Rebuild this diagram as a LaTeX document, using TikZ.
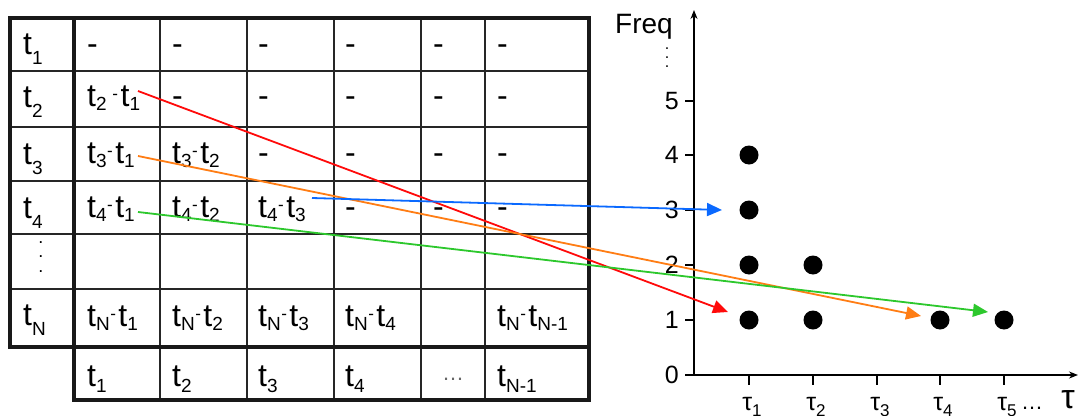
\documentclass[tikz,border=0pt]{standalone}
\usepackage{fontspec}
\setmainfont{Liberation Sans}
\usetikzlibrary{arrows.meta}
\definecolor{cred}{RGB}{255,10,10}
\definecolor{corange}{RGB}{255,125,20}
\definecolor{cgreen}{RGB}{45,200,45}
\definecolor{cblue}{RGB}{10,105,255}
% header subscript, bottom-row subscript, cell subscript, small raised minus
\newcommand{\hsb}[1]{\raisebox{-10pt}{\fontsize{19}{19}\selectfont #1}}
\newcommand{\bsb}[1]{\raisebox{-6pt}{\fontsize{19}{19}\selectfont #1}}
\newcommand{\csb}[1]{\raisebox{-4pt}{\fontsize{19}{19}\selectfont #1}}
\newcommand{\mns}{\hspace{0.5pt}\raisebox{7pt}{\fontsize{17}{17}\selectfont -}\hspace{2.5pt}}
\newcommand{\gsb}[1]{\raisebox{-6pt}{\fontsize{17}{17}\selectfont #1}}
\begin{document}
\begin{tikzpicture}[x=1pt,y=-1pt,
  thinline/.style={line width=1.2pt, draw=black!85},
  thickline/.style={line width=3.4pt, draw=black!90},
  tcell/.style={anchor=base west, inner sep=0pt, font=\fontsize{32}{32}\selectfont},
  axlabel/.style={anchor=east, inner sep=0pt, font=\fontsize{25}{25}\selectfont},
  taulabel/.style={anchor=base, inner sep=0pt, font=\fontsize{25}{25}\selectfont},
  dot/.style={circle, fill=black, inner sep=0pt, minimum size=19pt},
  conn/.style={line width=1.8pt, -{Triangle[length=15pt,width=13pt]}},
  axis/.style={line width=1.2pt, -{Stealth[length=9pt,width=7pt]}}
]
\fill[white] (0,0) rectangle (1078,415);
\useasboundingbox (0,0) rectangle (1078,415);

% ---- table grid ----
\foreach \y in {71,127,181,234,289} \draw[thinline] (10,\y) -- (589,\y);
\foreach \x in {160,247,334,421,485} \draw[thinline] (\x,18) -- (\x,400);
\draw[thickline] (10,18) rectangle (589,347);
\draw[thickline] (74,18) -- (74,400);
\draw[thickline] (74,347) rectangle (589,400);

% ---- row headers ----
\node[tcell] (h1) at (23,54) {t\hsb{1}};
\node[tcell] (h2) at (23,107) {t\hsb{2}};
\node[tcell] (h3) at (23,164) {t\hsb{3}};
\node[tcell] (h4) at (23,218) {t\hsb{4}};
\node[align=center, inner sep=0pt, font=\fontsize{18}{14.5}\selectfont] (hdots) at (41,257) {.\\.\\.};
\node[tcell] (hN) at (23,325) {t\hsb{N}};

% ---- row 1 ----
\node[tcell] (c11) at (87,54) {-};
\node[tcell] (c12) at (172,54) {-};
\node[tcell] (c13) at (258,54) {-};
\node[tcell] (c14) at (345,54) {-};
\node[tcell] (c15) at (433,54) {-};
\node[tcell] (c16) at (497,54) {-};
% ---- row 2 ----
\node[tcell] (c21) at (87,106) {t\csb{2}\,\mns t\csb{1}};
\node[tcell] (c22) at (172,106) {-};
\node[tcell] (c23) at (258,106) {-};
\node[tcell] (c24) at (345,106) {-};
\node[tcell] (c25) at (433,106) {-};
\node[tcell] (c26) at (497,106) {-};
% ---- row 3 ----
\node[tcell] (c31) at (87,163) {t\csb{3}\mns t\csb{1}};
\node[tcell] (c32) at (172,163) {t\csb{3}\mns t\csb{2}};
\node[tcell] (c33) at (258,163) {-};
\node[tcell] (c34) at (345,163) {-};
\node[tcell] (c35) at (433,163) {-};
\node[tcell] (c36) at (497,163) {-};
% ---- row 4 ----
\node[tcell] (c41) at (87,217) {t\csb{4}\mns t\csb{1}};
\node[tcell] (c42) at (172,217) {t\csb{4}\mns t\csb{2}};
\node[tcell] (c43) at (258,217) {t\csb{4}\mns t\csb{3}};
\node[tcell] (c44) at (345,217) {-};
\node[tcell] (c45) at (433,217) {-};
\node[tcell] (c46) at (497,217) {-};
% ---- row N ----
\node[tcell] (cN1) at (87,326) {t\csb{N}\mns t\csb{1}};
\node[tcell] (cN2) at (172,326) {t\csb{N}\mns t\csb{2}};
\node[tcell] (cN3) at (258,326) {t\csb{N}\mns t\csb{3}};
\node[tcell] (cN4) at (345,326) {t\csb{N}\mns t\csb{4}};
\node[tcell] (cN6) at (497,326) {t\csb{N}\mns t\csb{N-1}};
% ---- bottom row ----
\node[tcell] (b1) at (87,386) {t\bsb{1}};
\node[tcell] (b2) at (172,386) {t\bsb{2}};
\node[tcell] (b3) at (258,386) {t\bsb{3}};
\node[tcell] (b4) at (345,386) {t\bsb{4}};
\node[inner sep=0pt, font=\fontsize{22}{22}\selectfont, text=black!60] (b5) at (453,379) {\dots};
\node[tcell] (b6) at (497,386) {t\bsb{N-1}};

% ---- plot axes ----
\coordinate (O) at (694,375);
\coordinate (Ytop) at (694,10);
\coordinate (Xend) at (1078,375);
\draw[axis] (685,375) -- (Xend);
\draw[axis] (O) -- (Ytop);
\foreach \y in {101,155,210,265,320} \draw[line width=1.2pt] (685,\y) -- (694,\y);
\foreach \x in {749,813,877,940,1004} \draw[line width=1.2pt] (\x,375) -- (\x,385);

\node[anchor=base west, inner sep=0pt, font=\fontsize{28}{28}\selectfont] (freq) at (615,33) {Freq};
\node[align=center, inner sep=0pt, font=\fontsize{16}{9}\selectfont] (fdots) at (667,58) {.\\.\\.};
\node[axlabel] (y5) at (679,101) {5};
\node[axlabel] (y4) at (679,155) {4};
\node[axlabel] (y3) at (679,210) {3};
\node[axlabel] (y2) at (679,265) {2};
\node[axlabel] (y1) at (679,320) {1};
\node[axlabel] (y0) at (679,375) {0};

\node[taulabel] (x1) at (752,410) {τ\gsb{1}};
\node[taulabel] (x2) at (816,410) {τ\gsb{2}};
\node[taulabel] (x3) at (880,410) {τ\gsb{3}};
\node[taulabel] (x4) at (943,410) {τ\gsb{4}};
\node[taulabel] (x5) at (1007,410) {τ\gsb{5}};
\node[anchor=base, inner sep=0pt, font=\fontsize{22}{22}\selectfont] (xdots) at (1032,409) {\dots};
\node[anchor=base, inner sep=0pt, font=\fontsize{34}{34}\selectfont] (xtau) at (1068,408) {τ};

% ---- dots ----
\node[dot] (d14) at (749,155) {};
\node[dot] (d13) at (749,210) {};
\node[dot] (d12) at (749,265) {};
\node[dot] (d11) at (749,320) {};
\node[dot] (d22) at (813,265) {};
\node[dot] (d21) at (813,320) {};
\node[dot] (d41) at (940,320) {};
\node[dot] (d51) at (1004,320) {};

% ---- connectors ----
\coordinate (rS) at (138,91);
\coordinate (rE) at (728,312);
\coordinate (oS) at (138,156);
\coordinate (oE) at (921,316);
\coordinate (gS) at (138,212);
\coordinate (gE) at (988,312);
\coordinate (bS) at (312,198);
\coordinate (bE) at (722,210);
\draw[conn, cred] (rS) -- (rE);
\draw[conn, corange] (oS) -- (oE);
\draw[conn, cgreen] (gS) -- (gE);
\draw[conn, cblue] (bS) -- (bE);
\end{tikzpicture}
\end{document}
